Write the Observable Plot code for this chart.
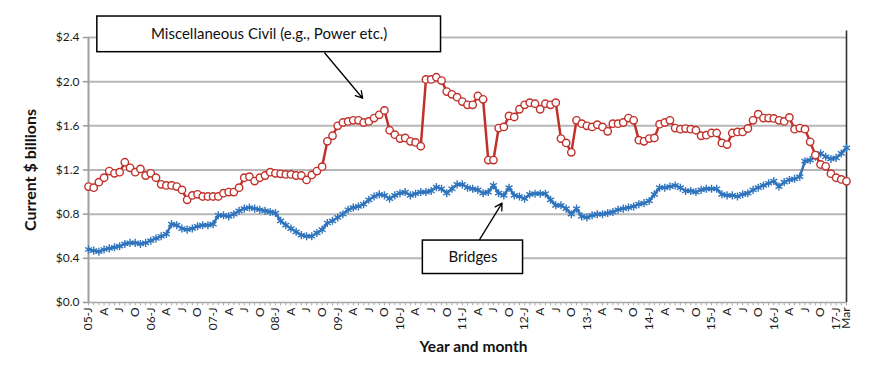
<!DOCTYPE html>
<html>
<head>
<meta charset="utf-8">
<script src="https://cdn.jsdelivr.net/npm/d3@7"></script>
<script src="https://cdn.jsdelivr.net/npm/@observablehq/plot@0.6"></script>
<style>
  html, body { margin: 0; padding: 0; background: #fff; }
  #chart { width: 870px; height: 368px; }
</style>
</head>
<body>
<div id="chart"></div>
<script>
// Monthly values, Jan 2005 .. Mar 2017 (index 0 = 05-J)
const miscCivil = [
  1.05, 1.04, 1.09, 1.13, 1.19, 1.17, 1.18, 1.27, 1.22, 1.18, 1.21, 1.15,
  1.17, 1.13, 1.07, 1.06, 1.06, 1.05, 1.02, 0.93, 0.97, 0.98, 0.96, 0.96,
  0.96, 0.96, 0.99, 1.00, 1.00, 1.04, 1.13, 1.14, 1.10, 1.13, 1.15, 1.18,
  1.17, 1.165, 1.16, 1.16, 1.15, 1.15, 1.11, 1.155, 1.19, 1.23, 1.46, 1.51,
  1.60, 1.63, 1.64, 1.65, 1.65, 1.63, 1.64, 1.67, 1.70, 1.74, 1.56, 1.52,
  1.485, 1.49, 1.46, 1.45, 1.415, 2.02, 2.02, 2.04, 2.01, 1.91, 1.885, 1.86,
  1.82, 1.79, 1.79, 1.87, 1.84, 1.29, 1.29, 1.58, 1.59, 1.69, 1.68, 1.75,
  1.79, 1.81, 1.80, 1.75, 1.80, 1.79, 1.81, 1.485, 1.445, 1.36, 1.65, 1.62,
  1.60, 1.59, 1.61, 1.59, 1.55, 1.62, 1.62, 1.63, 1.67, 1.65, 1.47, 1.46,
  1.485, 1.49, 1.615, 1.63, 1.65, 1.58, 1.57, 1.575, 1.57, 1.56, 1.51, 1.515,
  1.535, 1.535, 1.445, 1.43, 1.535, 1.545, 1.545, 1.576, 1.65, 1.706, 1.67, 1.67,
  1.667, 1.65, 1.64, 1.676, 1.57, 1.58, 1.57, 1.455, 1.335, 1.25, 1.233, 1.167,
  1.13, 1.115, 1.097
];
const bridges = [
  0.48, 0.47, 0.46, 0.48, 0.49, 0.50, 0.51, 0.53, 0.54, 0.54, 0.53, 0.54,
  0.56, 0.58, 0.60, 0.62, 0.71, 0.70, 0.67, 0.66, 0.67, 0.69, 0.70, 0.70,
  0.71, 0.79, 0.79, 0.78, 0.80, 0.83, 0.85, 0.86, 0.85, 0.84, 0.83, 0.82,
  0.81, 0.74, 0.70, 0.67, 0.64, 0.61, 0.60, 0.60, 0.63, 0.66, 0.72, 0.74,
  0.77, 0.80, 0.84, 0.86, 0.87, 0.89, 0.93, 0.96, 0.98, 0.97, 0.94, 0.97,
  0.99, 1.00, 0.97, 0.985, 1.00, 1.00, 1.01, 1.045, 1.03, 0.99, 1.03, 1.07,
  1.07, 1.04, 1.03, 1.02, 0.99, 1.00, 1.06, 0.99, 0.97, 1.04, 0.97, 0.96,
  0.94, 0.98, 0.985, 0.985, 0.985, 0.93, 0.88, 0.88, 0.85, 0.80, 0.85, 0.78,
  0.77, 0.79, 0.80, 0.80, 0.81, 0.82, 0.84, 0.85, 0.86, 0.87, 0.89, 0.90,
  0.92, 0.98, 1.04, 1.04, 1.05, 1.06, 1.04, 1.01, 1.01, 1.00, 1.02, 1.03,
  1.03, 1.03, 0.98, 0.97, 0.97, 0.96, 0.98, 0.99, 1.02, 1.04, 1.06, 1.08,
  1.10, 1.05, 1.09, 1.11, 1.12, 1.14, 1.28, 1.29, 1.32, 1.35, 1.32, 1.30,
  1.31, 1.35, 1.40
];
// Quarterly tick labels (every 3 months) plus the final "Mar"
const xTickLabels = [
  "05-J","A","J","O","06-J","A","J","O","07-J","A","J","O","08-J","A","J","O",
  "09-J","A","J","O","10-J","A","J","O","11-J","A","J","O","12-J","A","J","O",
  "13-J","A","J","O","14-J","A","J","O","15-J","A","J","O","16-J","A","J","O",
  "17-J","Mar"
];
const yTicks = [0, 0.4, 0.8, 1.2, 1.6, 2.0, 2.4];

// Annotation callouts (in data units: month index, $ billions)
const calloutText = ["Miscellaneous Civil (e.g., Power etc.)", "Bridges"];
const calloutBox = [
  {x1: 1.7, x2: 67.9, y1: 2.267, y2: 2.59},
  {x1: 64.4, x2: 83.7, y1: 0.258, y2: 0.561}
];
const calloutArrow = [
  {x1: 45.5, y1: 2.26, x2: 52.8, y2: 1.85},
  {x1: 75.2, y1: 0.561, x2: 79.65, y2: 0.90}
];

const n = miscCivil.length;
const idx = d3.range(n);
const labelIdx = xTickLabels.map((_, k) => k < xTickLabels.length - 1 ? k * 3 : n - 1);
const labelOf = new Map(labelIdx.map((v, k) => [v, xTickLabels[k]]));
const miscData = miscCivil.map((v, i) => ({i, v}));
const bridgeData = bridges.map((v, i) => ({i, v}));
const boxes = calloutBox.map((b, k) => ({...b, label: calloutText[k], cx: (b.x1 + b.x2) / 2, cy: (b.y1 + b.y2) / 2}));

const RED = "#c1312b";
const BLUE = "#2f74bc";
const GRID = "#b7b7b7";
const FONT = "Lato, 'DejaVu Sans', sans-serif";

const chart = Plot.plot({
  width: 870,
  height: 368,
  marginLeft: 88,
  marginRight: 24,
  marginTop: 37,
  marginBottom: 66,
  style: {fontFamily: FONT, fontSize: "12px", color: "#1a1a1a", background: "white", overflow: "visible"},
  x: {type: "linear", domain: [0, n - 1], ticks: labelIdx, tickFormat: d => labelOf.get(d) ?? "", tickRotate: -90, tickSize: 0, tickPadding: 5, label: null},
  y: {domain: [0, 2.4], ticks: yTicks, tickFormat: d => "$" + d.toFixed(1), tickSize: 0, tickPadding: 9, label: null},
  marks: [
    Plot.ruleY(yTicks.filter(d => d > 0), {stroke: GRID, strokeWidth: 2}),
    Plot.ruleY(yTicks, {x1: -1, x2: 0, stroke: "#9a9a9a", strokeWidth: 1.5}),
    Plot.ruleY([0], {stroke: "#a8a8a8", strokeWidth: 1.5}),
    Plot.ruleX(idx, {y1: -0.03, y2: 0, stroke: "#a8a8a8", strokeWidth: 1}),
    Plot.ruleX([0], {y1: 0, y2: 2.4, stroke: "#a0a0a0", strokeWidth: 2}),
    Plot.ruleX([n - 1], {y1: 0, y2: 2.46, stroke: "#333", strokeWidth: 1.6}),
    Plot.line(bridgeData, {x: "i", y: "v", stroke: BLUE, strokeWidth: 2.5}),
    Plot.dot(bridgeData, {x: "i", y: "v", symbol: "asterisk", r: 3.8, stroke: BLUE, strokeWidth: 1.4}),
    Plot.line(miscData, {x: "i", y: "v", stroke: RED, strokeWidth: 2.5}),
    Plot.dot(miscData, {x: "i", y: "v", symbol: "circle", r: 3.7, fill: "white", stroke: RED, strokeWidth: 1.4}),
    Plot.arrow(calloutArrow, {x1: "x1", y1: "y1", x2: "x2", y2: "y2", stroke: "black", strokeWidth: 1.3, headLength: 9}),
    Plot.rect(boxes, {x1: "x1", x2: "x2", y1: "y1", y2: "y2", fill: "white", stroke: "black", strokeWidth: 1.5}),
    Plot.text(boxes, {x: "cx", y: "cy", text: "label", fontSize: 15, fill: "#111", fontFamily: FONT}),
    Plot.text(["Year and month"], {frameAnchor: "bottom", dy: 49, dx: 6, fontSize: 15.5, fontWeight: "bold", fill: "#111", fontFamily: FONT}),
    Plot.text(["Current $ billions"], {frameAnchor: "left", textAnchor: "middle", dx: -58, rotate: -90, fontSize: 16, fontWeight: "bold", fill: "#111", fontFamily: FONT})
  ]
});
document.getElementById("chart").appendChild(chart);
</script>
</body>
</html>
